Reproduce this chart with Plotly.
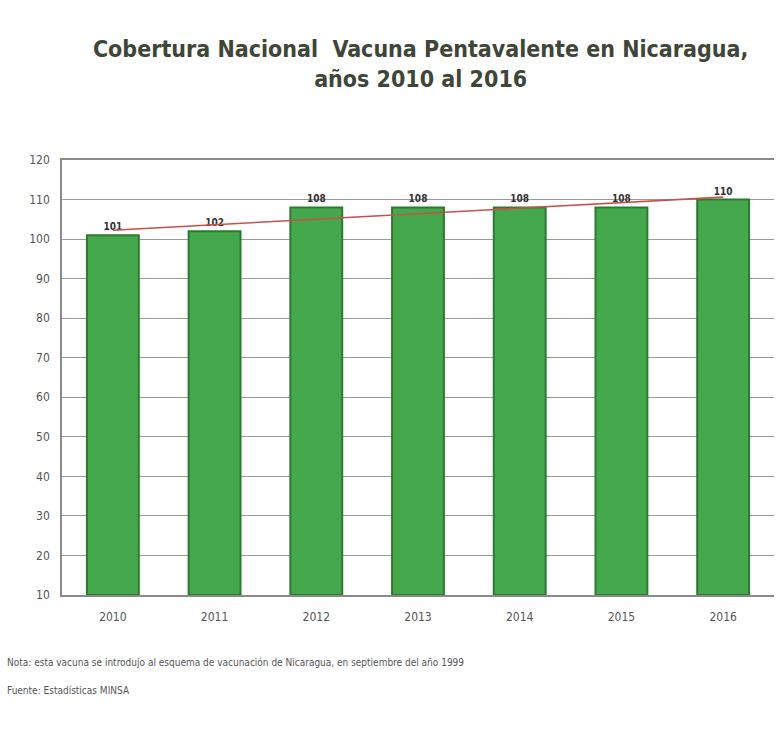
import numpy as np
import plotly.graph_objects as go

years = ["2010", "2011", "2012", "2013", "2014", "2015", "2016"]
coverage = [101, 102, 108, 108, 108, 108, 110]
y_ticks = [10, 20, 30, 40, 50, 60, 70, 80, 90, 100, 110, 120]
axis_min = 10

xi = np.arange(len(years))
slope, intercept = np.polyfit(xi, coverage, 1)
trend = (slope * xi + intercept).tolist()

NARROW = "Liberation Sans Narrow, Arial Narrow, DejaVu Sans Condensed"

fig = go.Figure()
fig.add_trace(go.Bar(
    x=years, y=[v - axis_min for v in coverage], base=axis_min,
    marker=dict(color="#45a84d", line=dict(color="#2c7a32", width=2)),
    text=["<b>%d</b>" % v for v in coverage], textposition="outside",
    textfont=dict(family=NARROW, size=10, color="#333333"),
    cliponaxis=False, showlegend=False, hoverinfo="skip",
))
fig.add_trace(go.Scatter(
    x=years, y=trend, mode="lines",
    line=dict(color="#c8504a", width=1.6), showlegend=False,
))

fig.update_layout(
    width=779, height=731,
    margin=dict(l=62, r=5, t=160, b=136),
    paper_bgcolor="white", plot_bgcolor="white",
    bargap=0.49,
    title=dict(
        text="<b>Cobertura Nacional  Vacuna Pentavalente en Nicaragua,<br>años 2010 al 2016</b>",
        x=0.54, xanchor="center", y=0.922, yanchor="top",
        font=dict(family=NARROW, size=23, color="#3e4638"),
    ),
    xaxis=dict(
        type="category", showgrid=False, showline=True, linecolor="#8a8a8a", linewidth=1.5,
        mirror=True,
        ticks="", tickfont=dict(family=NARROW, size=12, color="#555555"),
        ticklabelstandoff=10,
    ),
    yaxis=dict(
        range=[10, 120], tickvals=y_ticks, showgrid=True, gridcolor="#9a9a9a", gridwidth=1,
        showline=True, linecolor="#8a8a8a", linewidth=1.5, zeroline=False,
        tickfont=dict(family=NARROW, size=12, color="#555555"),
        ticklabelstandoff=8,
    ),
    annotations=[
        dict(text="Nota: esta vacuna se introdujo al esquema de vacunación de Nicaragua, en septiembre del año 1999",
             xref="paper", yref="paper", x=-0.08, y=-0.155, xanchor="left", yanchor="middle", showarrow=False,
             font=dict(family=NARROW, size=10, color="#555555")),
        dict(text="Fuente: Estadísticas MINSA",
             xref="paper", yref="paper", x=-0.08, y=-0.22, xanchor="left", yanchor="middle", showarrow=False,
             font=dict(family=NARROW, size=10, color="#555555")),
    ],
)

fig.write_html("out.html")
